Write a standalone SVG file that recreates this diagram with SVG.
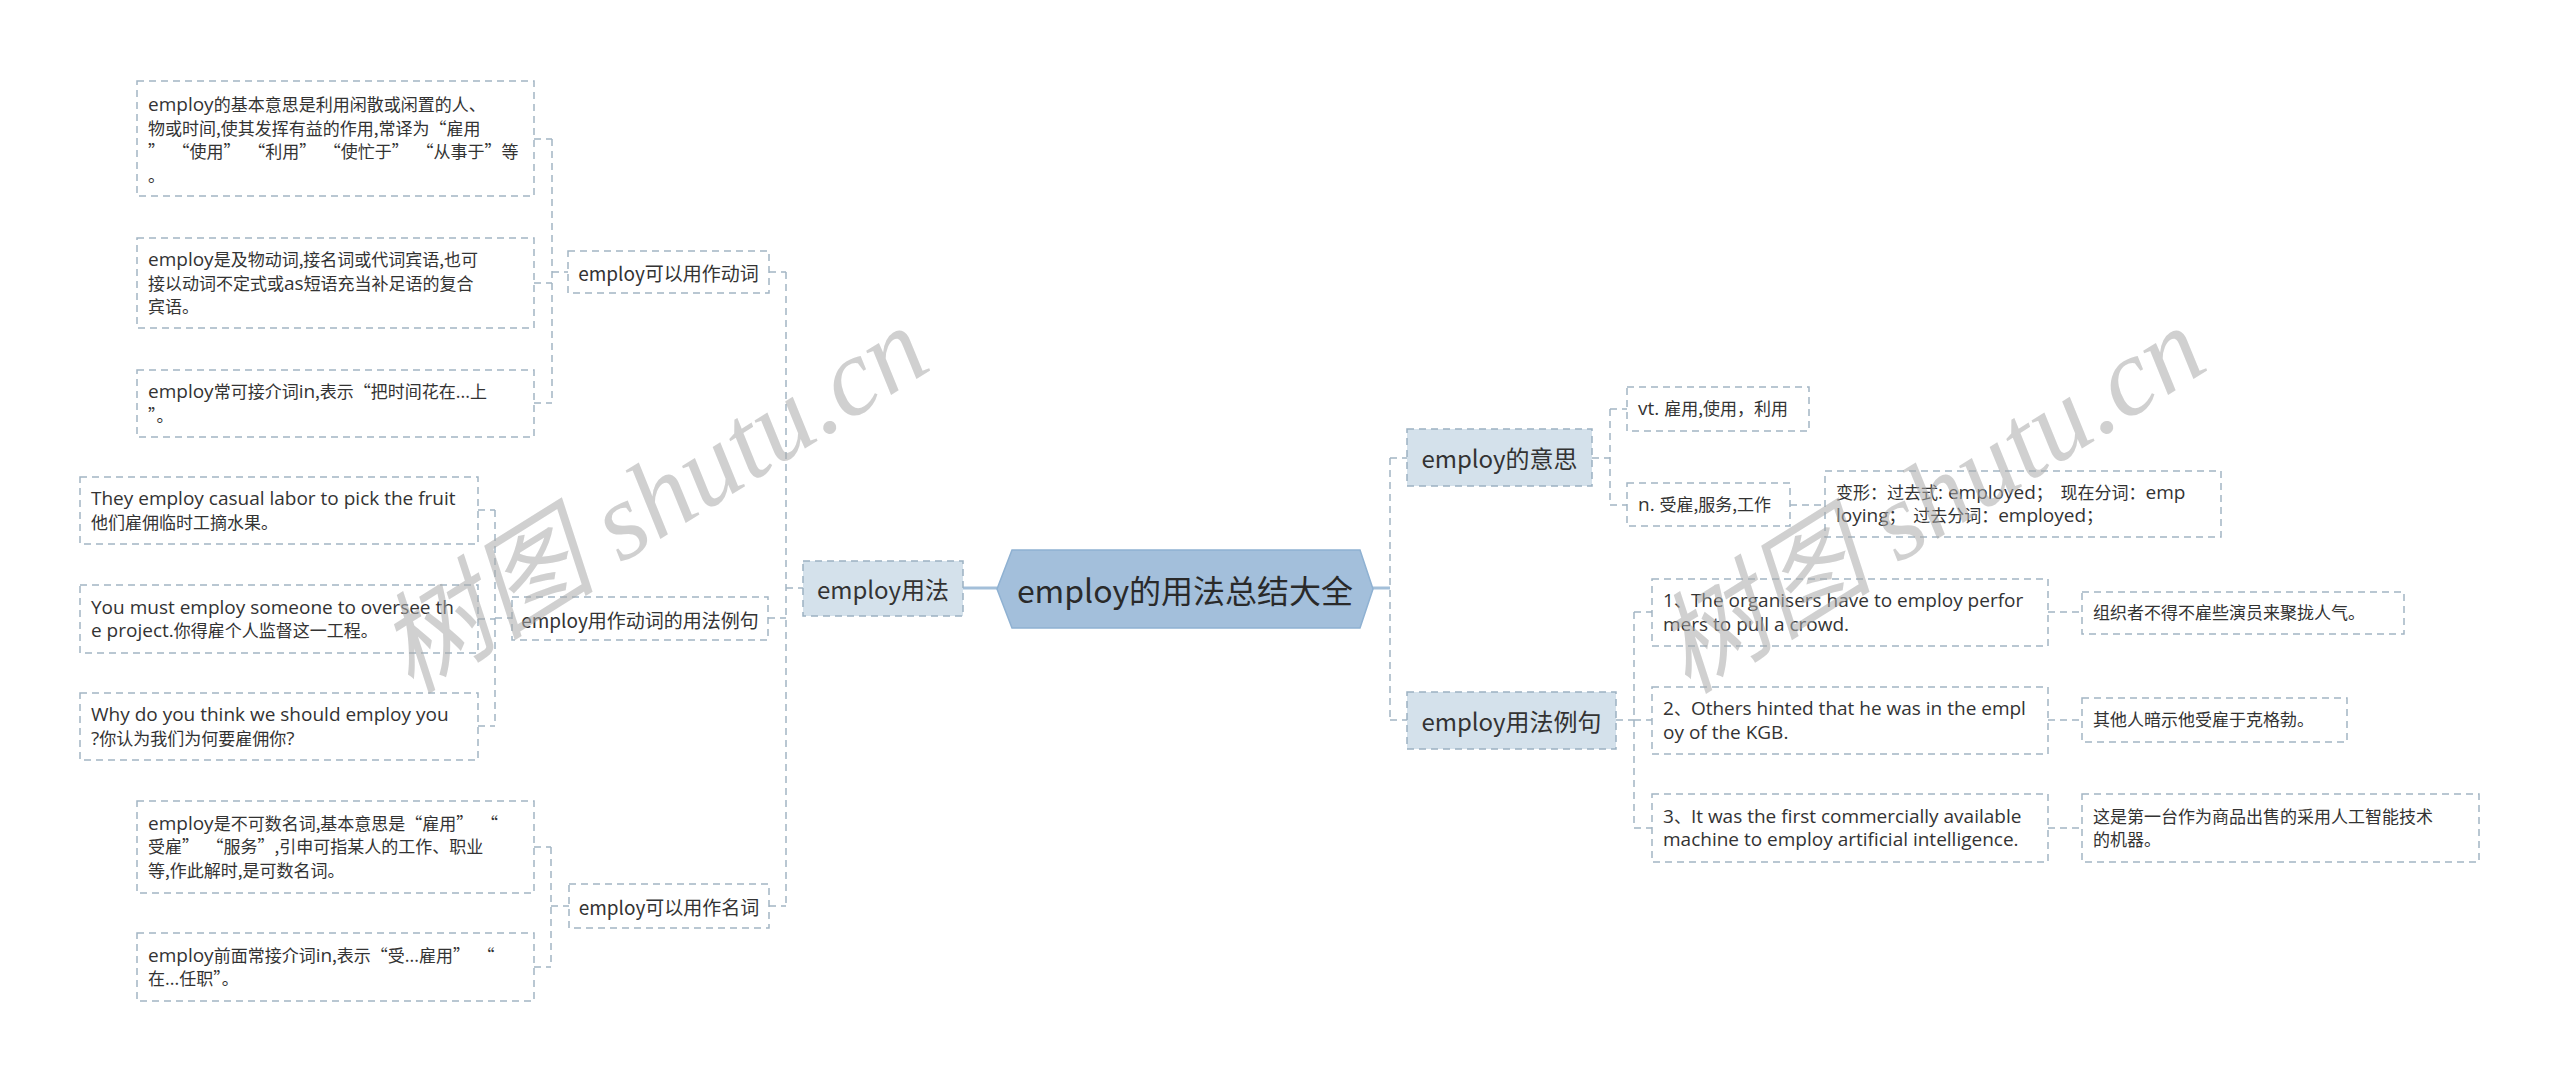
<svg xmlns="http://www.w3.org/2000/svg" width="2560" height="1081" viewBox="0 0 2560 1081">
<style>
text{font-family:"Noto Sans CJK SC","Noto Sans",sans-serif;fill:#333333}
.t3{font-size:17px}
.l{font-family:"Open Sans","Noto Sans","Noto Sans CJK SC",sans-serif;font-size:19px}
.t2{font-size:19px;text-anchor:middle;dominant-baseline:central}
.t1{font-size:24px;text-anchor:middle;dominant-baseline:central}
.t0{font-size:32px;text-anchor:middle;dominant-baseline:central;fill:#2a2a2a}
.box{fill:#ffffff;stroke:#a3b5c4;stroke-width:1.5;stroke-dasharray:7 5}
.b1{fill:#d4e1eb;stroke:#9cb1c2;stroke-width:1.5;stroke-dasharray:7 5}
.con{fill:none;stroke:#a3b5c4;stroke-width:1.5;stroke-dasharray:7 5}
.solid{fill:none;stroke:#a3bfd9;stroke-width:3}
.wm{font-family:"Liberation Serif","Noto Sans CJK SC",serif;font-style:italic;font-size:110px;fill:#aaaaaa;fill-opacity:0.55;text-anchor:middle;dominant-baseline:central}
</style>
<rect width="2560" height="1081" fill="#ffffff"/>
<g id="connectors">
<path class="solid" d="M963,588 H997"/>
<path class="solid" d="M1373,588 H1390"/>
<path class="con" d="M786,588 H803"/>
<path class="con" d="M786,272 V906"/>
<path class="con" d="M769,272 H786 M768,618 H786 M769,906 H786"/>
<path class="con" d="M552,139 V403"/>
<path class="con" d="M534,139 H552 M534,283 H552 M534,403 H552 M552,272 H568"/>
<path class="con" d="M495,510 V726"/>
<path class="con" d="M478,510 H495 M478,619 H495 M478,726 H495 M495,618 H512"/>
<path class="con" d="M551,847 V967"/>
<path class="con" d="M534,847 H551 M534,967 H551 M551,906 H569"/>
<path class="con" d="M1390,458 V720"/>
<path class="con" d="M1390,458 H1407 M1390,720 H1407"/>
<path class="con" d="M1592,458 H1610"/>
<path class="con" d="M1610,409 V505"/>
<path class="con" d="M1610,409 H1627 M1610,505 H1627"/>
<path class="con" d="M1790,505 H1825"/>
<path class="con" d="M1616,720 H1634"/>
<path class="con" d="M1634,612 V828"/>
<path class="con" d="M1634,612 H1652 M1634,720 H1652 M1634,828 H1652"/>
<path class="con" d="M2048,612 H2082 M2048,720 H2082 M2048,828 H2082"/>
</g>
<g id="root">
<polygon points="997,589 1012,550 1360,550 1373,589 1360,628 1012,628" fill="#a3bfdb" stroke="#8fb1d2" stroke-width="1.5"/>
<text class="t0" x="1185" y="589">employ的用法总结大全</text>
</g>
<g id="n-usage">
<rect class="b1" x="803" y="561" width="160" height="55"/>
<text class="t1" x="883" y="588">employ用法</text>
</g>
<g id="n-verb">
<rect class="box" x="568" y="251" width="201" height="42"/>
<text class="t2" x="668.5" y="272">employ可以用作动词</text>
</g>
<g id="n-verb-1">
<rect class="box" x="137" y="81" width="397" height="115"/>
<text class="t3"><tspan x="148" y="111"><tspan class="l">employ</tspan>的基本意思是利用闲散或闲置的人、</tspan><tspan x="148" y="134.5">物或时间,使其发挥有益的作用,常译为“雇用</tspan><tspan x="148" y="158">” &#160;“使用” &#160;“利用” &#160;“使忙于” &#160;“从事于”等</tspan><tspan x="148" y="181.5">。</tspan></text>
</g>
<g id="n-verb-2">
<rect class="box" x="137" y="238" width="397" height="90"/>
<text class="t3"><tspan x="148" y="266"><tspan class="l">employ</tspan>是及物动词,接名词或代词宾语,也可</tspan><tspan x="148" y="289.5">接以动词不定式或<tspan class="l">as</tspan>短语充当补足语的复合</tspan><tspan x="148" y="313">宾语。</tspan></text>
</g>
<g id="n-verb-3">
<rect class="box" x="137" y="370" width="397" height="67"/>
<text class="t3"><tspan x="148" y="398"><tspan class="l">employ</tspan>常可接介词<tspan class="l">in</tspan>,表示“把时间花在...上</tspan><tspan x="148" y="421.5">”。</tspan></text>
</g>
<g id="n-examples-left">
<rect class="box" x="512" y="597" width="256" height="43"/>
<text class="t2" x="640" y="619">employ用作动词的用法例句</text>
</g>
<g id="n-ex-1">
<rect class="box" x="80" y="477" width="398" height="67"/>
<text class="t3"><tspan x="91" y="505"><tspan class="l">They employ casual labor to pick the fruit</tspan></tspan><tspan x="91" y="528.5">他们雇佣临时工摘水果。</tspan></text>
</g>
<g id="n-ex-2">
<rect class="box" x="80" y="585" width="398" height="68"/>
<text class="t3"><tspan x="91" y="613.5"><tspan class="l">You must employ someone to oversee th</tspan></tspan><tspan x="91" y="637"><tspan class="l">e project.</tspan>你得雇个人监督这一工程。</tspan></text>
</g>
<g id="n-ex-3">
<rect class="box" x="80" y="693" width="398" height="67"/>
<text class="t3"><tspan x="91" y="721"><tspan class="l">Why do you think we should employ you</tspan></tspan><tspan x="91" y="744.5"><tspan class="l">?</tspan>你认为我们为何要雇佣你<tspan class="l">?</tspan></tspan></text>
</g>
<g id="n-noun">
<rect class="box" x="569" y="884" width="200" height="44"/>
<text class="t2" x="669" y="906">employ可以用作名词</text>
</g>
<g id="n-noun-1">
<rect class="box" x="137" y="801" width="397" height="92"/>
<text class="t3"><tspan x="148" y="830"><tspan class="l">employ</tspan>是不可数名词,基本意思是“雇用” &#160;“</tspan><tspan x="148" y="853">受雇” &#160;“服务”,引申可指某人的工作、职业</tspan><tspan x="148" y="876.5">等,作此解时,是可数名词。</tspan></text>
</g>
<g id="n-noun-2">
<rect class="box" x="137" y="933" width="397" height="68"/>
<text class="t3"><tspan x="148" y="961.5"><tspan class="l">employ</tspan>前面常接介词<tspan class="l">in</tspan>,表示“受...雇用” &#160;“</tspan><tspan x="148" y="985">在...任职”。</tspan></text>
</g>
<g id="n-meaning">
<rect class="b1" x="1407" y="429" width="185" height="57"/>
<text class="t1" x="1499.5" y="457">employ的意思</text>
</g>
<g id="n-vt">
<rect class="box" x="1627" y="387" width="182" height="44"/>
<text class="t3" x="1638" y="415"><tspan class="l">vt. </tspan>雇用,使用，利用</text>
</g>
<g id="n-n">
<rect class="box" x="1627" y="483" width="163" height="43"/>
<text class="t3" x="1638" y="510.5"><tspan class="l">n. </tspan>受雇,服务,工作</text>
</g>
<g id="n-forms">
<rect class="box" x="1825" y="471" width="396" height="66"/>
<text class="t3"><tspan x="1836" y="498.5">变形：过去式<tspan class="l">: employed</tspan>； &#160;现在分词：<tspan class="l">emp</tspan></tspan><tspan x="1836" y="522"><tspan class="l">loying</tspan>； &#160;过去分词：<tspan class="l">employed</tspan>；</tspan></text>
</g>
<g id="n-examples">
<rect class="b1" x="1407" y="692" width="209" height="57"/>
<text class="t1" x="1511.5" y="720">employ用法例句</text>
</g>
<g id="n-e1">
<rect class="box" x="1652" y="579" width="396" height="67"/>
<text class="t3"><tspan x="1663" y="607"><tspan class="l">1</tspan>、<tspan class="l">The organisers have to employ perfor</tspan></tspan><tspan x="1663" y="630.5"><tspan class="l">mers to pull a crowd.</tspan></tspan></text>
</g>
<g id="n-e2">
<rect class="box" x="1652" y="687" width="396" height="67"/>
<text class="t3"><tspan x="1663" y="715"><tspan class="l">2</tspan>、<tspan class="l">Others hinted that he was in the empl</tspan></tspan><tspan x="1663" y="738.5"><tspan class="l">oy of the KGB.</tspan></tspan></text>
</g>
<g id="n-e3">
<rect class="box" x="1652" y="794" width="396" height="68"/>
<text class="t3"><tspan x="1663" y="822.5"><tspan class="l">3</tspan>、<tspan class="l">It was the first commercially available</tspan></tspan><tspan x="1663" y="846"><tspan class="l">machine to employ artificial intelligence.</tspan></tspan></text>
</g>
<g id="n-f1">
<rect class="box" x="2082" y="592" width="322" height="42"/>
<text class="t3" x="2093" y="619">组织者不得不雇些演员来聚拢人气。</text>
</g>
<g id="n-f2">
<rect class="box" x="2082" y="698" width="265" height="44"/>
<text class="t3" x="2093" y="726">其他人暗示他受雇于克格勃。</text>
</g>
<g id="n-f3">
<rect class="box" x="2082" y="794" width="397" height="68"/>
<text class="t3"><tspan x="2093" y="822.5">这是第一台作为商品出售的采用人工智能技术</tspan><tspan x="2093" y="846">的机器。</tspan></text>
</g>
<g id="watermarks">
<text class="wm" transform="translate(653,500) rotate(-32)">树图 shutu.cn</text>
<text class="wm" transform="translate(1930,500) rotate(-32)">树图 shutu.cn</text>
</g>
</svg>
